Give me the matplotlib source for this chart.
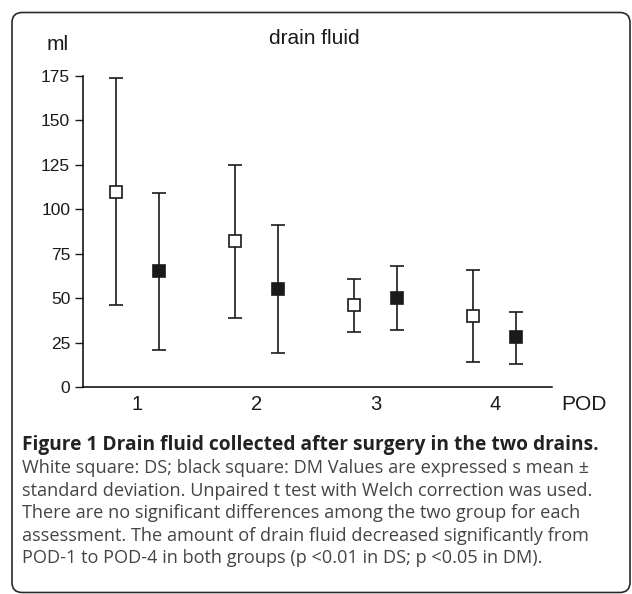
import numpy as np
import matplotlib
matplotlib.use("Agg")
import matplotlib.pyplot as plt
from matplotlib.patches import FancyBboxPatch

# dati
pod = [1, 2, 3, 4]
ds_mean = [110, 82, 46, 40]
ds_upper = [174, 125, 61, 66]
ds_lower = [46, 39, 31, 14]
dm_mean = [65, 55, 50, 28]
dm_upper = [109, 91, 68, 42]
dm_lower = [21, 19, 32, 13]
yticks = [0, 25, 50, 75, 100, 125, 150, 175]

caption_title = "Figure 1 Drain fluid collected after surgery in the two drains."
caption_lines = [
    "White square: DS; black square: DM Values are expressed s mean \u00b1",
    "standard deviation. Unpaired t test with Welch correction was used.",
    "There are no significant differences among the two group for each",
    "assessment. The amount of drain fluid decreased significantly from",
    "POD-1 to POD-4 in both groups (p <0.01 in DS; p <0.05 in DM).",
]

W, H = 632, 594
fig = plt.figure(figsize=(W / 100, H / 100), dpi=100)

# cornice arrotondata
frame = FancyBboxPatch((12 / W, 1.5 / H), 618 / W, 580 / H,
                       boxstyle="round,pad=0,rounding_size=0.016",
                       mutation_aspect=W / H,
                       transform=fig.transFigure, fill=False,
                       edgecolor="#2a2a2a", linewidth=1.2)
fig.patches.append(frame)

ax = fig.add_axes([83 / W, 1 - 387 / H, (551.5 - 83) / W, (387 - 76) / H])

x = np.array(pod, dtype=float)
off = 0.18
ds_err = [np.array(ds_mean) - np.array(ds_lower), np.array(ds_upper) - np.array(ds_mean)]
dm_err = [np.array(dm_mean) - np.array(dm_lower), np.array(dm_upper) - np.array(dm_mean)]

ax.errorbar(x - off, ds_mean, yerr=ds_err, fmt="s", color="#1a1a1a",
            mfc="white", mec="#1a1a1a", ms=8, mew=1.2,
            elinewidth=1.2, capsize=4.8, capthick=1.4, clip_on=False, zorder=3)
ax.errorbar(x + off, dm_mean, yerr=dm_err, fmt="s", color="#1a1a1a",
            mfc="#1a1a1a", mec="#1a1a1a", ms=8, mew=1.2,
            elinewidth=1.2, capsize=4.8, capthick=1.4, clip_on=False, zorder=3)

ax.set_xlim(0.543, 4.476)
ax.set_ylim(0, 175)
ax.set_yticks(yticks)
ax.set_xticks(pod)
ax.tick_params(axis="y", direction="out", length=5.8, width=1, labelsize=12.5,
               pad=3.4, colors="#1a1a1a")
ax.tick_params(axis="x", length=0, labelsize=14.5, pad=6, colors="#1a1a1a")
for lab in ax.get_xticklabels() + ax.get_yticklabels():
    lab.set_family("Liberation Sans")
ax.spines["top"].set_visible(False)
ax.spines["right"].set_visible(False)
ax.spines["left"].set_linewidth(1.1)
ax.spines["bottom"].set_linewidth(1.1)

fig.text(58 / W, 1 - 45 / H, "ml", family="Liberation Sans", fontsize=15,
         ha="center", va="center", color="#1a1a1a")
fig.text(314 / W, 1 - 39 / H, "drain fluid", family="Liberation Sans",
         fontsize=15, ha="center", va="center", color="#1a1a1a")
fig.text(584 / W, 1 - 405 / H, "POD", family="Liberation Sans", fontsize=15,
         ha="center", va="center", color="#1a1a1a")

# didascalia
fig.text(22 / W, 1 - 445 / H, caption_title, family="Open Sans",
         fontweight="bold", fontsize=13.8, ha="left", va="center",
         color="#222222")
for i, line in enumerate(caption_lines):
    fig.text(22 / W, 1 - (468 + i * 22.6) / H, line, family="Open Sans",
             fontsize=13.1, ha="left", va="center", color="#444444")

fig.savefig("out.png", dpi=100)
